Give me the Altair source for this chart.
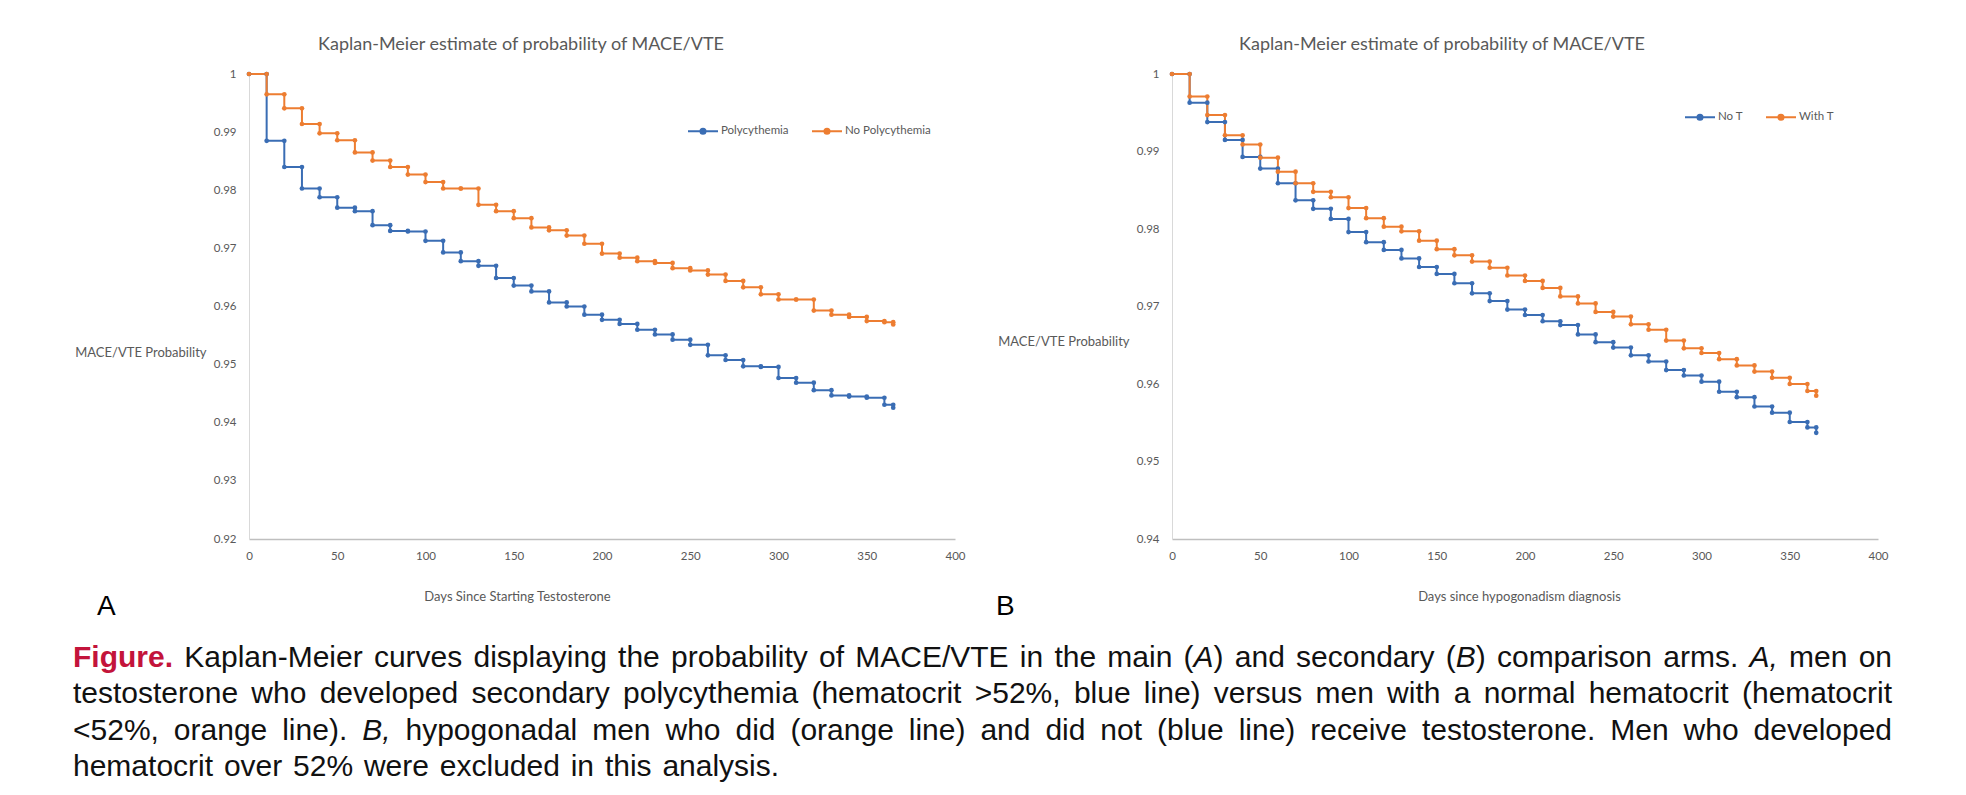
import re
import altair as alt
import pandas as pd

# ---------------- data ----------------
days = [0, 10, 20, 30, 40, 50, 60, 70, 80, 90, 100, 110, 120, 130, 140, 150, 160, 170, 180,
        190, 200, 210, 220, 230, 240, 250, 260, 270, 280, 290, 300, 310, 320, 330, 340, 350, 360, 365]

# Panel A
poly = [1.0, 0.9885, 0.9840, 0.9803, 0.9788, 0.9770, 0.9764, 0.9740, 0.9730, 0.9729,
        0.9713, 0.9693, 0.9678, 0.9670, 0.9649, 0.9636, 0.9626, 0.9607, 0.9600, 0.9586,
        0.9577, 0.9570, 0.9560, 0.9552, 0.9543, 0.9534, 0.9516, 0.9508, 0.9497, 0.9496,
        0.9477, 0.9469, 0.9456, 0.9447, 0.9445, 0.9443, 0.9431, 0.9426]
no_poly = [1.0, 0.9965, 0.9941, 0.9914, 0.9898, 0.9886, 0.9865, 0.9851, 0.9840, 0.9827,
           0.9814, 0.9803, 0.9803, 0.9775, 0.9764, 0.9752, 0.9736, 0.9731, 0.9722, 0.9708,
           0.9691, 0.9684, 0.9678, 0.9675, 0.9666, 0.9662, 0.9655, 0.9644, 0.9633, 0.9621,
           0.9612, 0.9612, 0.9593, 0.9586, 0.9582, 0.9575, 0.9573, 0.9569]

# Panel B
no_t = [1.0, 0.9963, 0.9938, 0.9915, 0.9893, 0.9878, 0.9859, 0.9837, 0.9826, 0.9813,
        0.9796, 0.9783, 0.9773, 0.9762, 0.9751, 0.9742, 0.9730, 0.9717, 0.9707, 0.9696,
        0.9689, 0.9681, 0.9676, 0.9664, 0.9654, 0.9647, 0.9637, 0.9629, 0.9618, 0.9611,
        0.9603, 0.9590, 0.9583, 0.9571, 0.9563, 0.9551, 0.9544, 0.9537]
with_t = [1.0, 0.9971, 0.9947, 0.9921, 0.9909, 0.9892, 0.9874, 0.9859, 0.9848, 0.9841,
          0.9827, 0.9814, 0.9803, 0.9797, 0.9785, 0.9774, 0.9766, 0.9758, 0.9750, 0.9740,
          0.9733, 0.9724, 0.9713, 0.9704, 0.9693, 0.9687, 0.9677, 0.9670, 0.9656, 0.9646,
          0.9640, 0.9632, 0.9624, 0.9616, 0.9608, 0.9600, 0.9591, 0.9585]

names_a = ["Polycythemia", "No Polycythemia"]
names_b = ["No T", "With T"]
x_ticks = [0, 50, 100, 150, 200, 250, 300, 350, 400]
y_ticks_a = [0.92, 0.93, 0.94, 0.95, 0.96, 0.97, 0.98, 0.99, 1.0]
y_ticks_b = [0.94, 0.95, 0.96, 0.97, 0.98, 0.99, 1.0]

chart_title = "Kaplan-Meier estimate of probability of MACE/VTE"
y_title = "MACE/VTE Probability"
x_title_a = "Days Since Starting Testosterone"
x_title_b = "Days since hypogonadism diagnosis"

caption_lines = [
    "**Figure.** Kaplan-Meier curves displaying the probability of MACE/VTE in the main (_A_) and secondary (_B_) comparison arms. _A,_ men on",
    "testosterone who developed secondary polycythemia (hematocrit >52%, blue line) versus men with a normal hematocrit (hematocrit",
    "<52%, orange line). _B,_ hypogonadal men who did (orange line) and did not (blue line) receive testosterone. Men who developed",
    "hematocrit over 52% were excluded in this analysis.",
]

# ---------------- style ----------------
BLUE = "#3A6DB4"
ORANGE = "#ED7D31"
GRAY = "#595959"
FONT = "Lato"
CAP_FONT = "Liberation Sans"
CAP_FS = 30
PLOT_W, PLOT_H = 706, 465
SYM = "M-1,0L1,0M0.17,0A0.17,0.17,0,1,1,-0.17,0A0.17,0.17,0,1,1,0.17,0Z"


def panel(names, series, ydom, yvals, xtitle, xt_x, yt_y, title_x, letter, letter_x, leg_x, leg_y):
    line_rows, pt_rows = [], []
    for name, vals in zip(names, series):
        for i, (d, v) in enumerate(zip(days, vals)):
            line_rows.append({"series": name, "day": d, "p": v})
            pt_rows.append({"series": name, "day": d, "p": v})
            if i + 1 < len(days):
                pt_rows.append({"series": name, "day": days[i + 1], "p": v})
    line_df = pd.DataFrame(line_rows)
    pt_df = pd.DataFrame(pt_rows)

    x = alt.X("day:Q", scale=alt.Scale(domain=[0, 400], nice=False, zero=False),
              axis=alt.Axis(values=x_ticks, title=xtitle, titleX=xt_x, titleY=57,
                            titleAlign="center", titleBaseline="middle", titleFont=FONT,
                            titleFontSize=13, titleFontWeight="normal", titleColor=GRAY,
                            labelFont=FONT, labelFontSize=11.5, labelColor=GRAY, labelPadding=11,
                            labelFlush=False, ticks=False, grid=False,
                            domainColor="#BFBFBF", domainWidth=1.5))
    y = alt.Y("p:Q", scale=alt.Scale(domain=ydom, nice=False, zero=False),
              axis=alt.Axis(values=yvals, format=".2~f", title=y_title, titleAngle=0,
                            titleAlign="right", titleBaseline="middle", titleX=-43, titleY=yt_y,
                            titleFont=FONT, titleFontSize=13, titleFontWeight="normal",
                            titleColor=GRAY, labelFont=FONT, labelFontSize=11.5, labelColor=GRAY,
                            labelPadding=13, labelFlush=False, ticks=False, grid=False,
                            domainColor="#D9D9D9", domainWidth=1))
    legend = alt.Legend(title=None, orient="none", legendX=leg_x, legendY=leg_y,
                        direction="horizontal", symbolType=SYM, symbolSize=900,
                        symbolStrokeWidth=2, labelFont=FONT, labelFontSize=11.5,
                        labelColor=GRAY, labelOffset=2, columnPadding=19, padding=0)
    color = alt.Color("series:N", scale=alt.Scale(domain=names, range=[BLUE, ORANGE]),
                      legend=legend)

    lines = alt.Chart(line_df).mark_line(interpolate="step-after", strokeWidth=2).encode(
        x=x, y=y, color=color)
    pts = alt.Chart(pt_df).mark_point(filled=True, size=22, opacity=1).encode(
        x=x, y=y, color=color)
    title = alt.Chart(pd.DataFrame({"t": [chart_title]})).mark_text(
        font=FONT, fontSize=18, color=GRAY, align="center", baseline="alphabetic").encode(
        x=alt.value(title_x), y=alt.value(-24), text="t:N")
    let = alt.Chart(pd.DataFrame({"t": [letter]})).mark_text(
        font=CAP_FONT, fontSize=28, color="#000000", align="left", baseline="alphabetic").encode(
        x=alt.value(letter_x), y=alt.value(541), text="t:N")
    return alt.layer(lines, pts, title, let).properties(width=PLOT_W, height=PLOT_H)


pA = panel(names_a, [poly, no_poly], [0.92, 1.0], y_ticks_a, x_title_a, 268, 278, 272,
           "A", -152, 438, 41)
pB = panel(names_b, [no_t, with_t], [0.94, 1.0], y_ticks_b, x_title_b, 347, 267, 270,
           "B", -176, 512, 27)

# ---------------- caption (justified, Arial metrics) ----------------
AW = {" ": 278, "!": 278, "%": 889, "(": 333, ")": 333, ",": 278, "-": 333, ".": 278, "/": 278,
      "<": 584, ">": 584, ":": 278,
      "A": 667, "B": 667, "C": 722, "D": 722, "E": 667, "F": 611, "G": 778, "H": 722, "I": 278,
      "J": 500, "K": 667, "L": 556, "M": 833, "N": 722, "O": 778, "P": 667, "Q": 778, "R": 722,
      "S": 667, "T": 611, "U": 722, "V": 667, "W": 944, "X": 667, "Y": 667, "Z": 611,
      "a": 556, "b": 556, "c": 500, "d": 556, "e": 556, "f": 278, "g": 556, "h": 556, "i": 222,
      "j": 222, "k": 500, "l": 222, "m": 833, "n": 556, "o": 556, "p": 556, "q": 556, "r": 333,
      "s": 500, "t": 278, "u": 556, "v": 500, "w": 722, "x": 500, "y": 500, "z": 500}
AWB = {"F": 611, "i": 278, "g": 611, "u": 611, "r": 389, "e": 556, ".": 278}


def tw(s, style):
    tab = AWB if style == "bold" else {}
    return sum(tab.get(c, AW.get(c, 556)) for c in s) * CAP_FS / 1000.0


def parse(word):
    out = []
    for part in re.split(r"(\*\*.+?\*\*|_.+?_)", word):
        if not part:
            continue
        if part.startswith("**"):
            out.append((part[2:-2], "bold"))
        elif part.startswith("_") and part.endswith("_") and len(part) > 1:
            out.append((part[1:-1], "italic"))
        else:
            out.append((part, "regular"))
    return out


CAP_X0 = -176          # relative to the left edge of panel A's plot
CAP_W = 1819
CAP_Y0 = 128           # baseline of first line, below bottom of plots
CAP_DY = 36.3
rows = []
for li, line in enumerate(caption_lines):
    words = [parse(w) for w in line.split(" ")]
    widths = [sum(tw(t, s) for t, s in w) for w in words]
    if li < len(caption_lines) - 1:
        gap = (CAP_W - sum(widths)) / (len(words) - 1)
    else:
        gap = tw(" ", "regular") * 1.3
    xcur = CAP_X0
    for w, wd in zip(words, widths):
        xx = xcur
        for t, s in w:
            rows.append({"text": t, "x": xx, "y": CAP_Y0 + li * CAP_DY, "style": s})
            xx += tw(t, s)
        xcur += wd + gap
cap_df = pd.DataFrame(rows)

cap_base = alt.Chart(cap_df).encode(
    x=alt.X("x:Q", scale=None, axis=None),
    y=alt.Y("y:Q", scale=None, axis=None),
    text="text:N")
cap_reg = cap_base.transform_filter(alt.datum.style == "regular").mark_text(
    font=CAP_FONT, fontSize=CAP_FS, color="#111111", align="left", baseline="alphabetic")
cap_it = cap_base.transform_filter(alt.datum.style == "italic").mark_text(
    font=CAP_FONT, fontSize=CAP_FS, fontStyle="italic", color="#111111", align="left",
    baseline="alphabetic")
cap_bold = cap_base.transform_filter(alt.datum.style == "bold").mark_text(
    font=CAP_FONT, fontSize=CAP_FS, fontWeight="bold", color="#C3143B", align="left",
    baseline="alphabetic")
caption = alt.layer(cap_reg, cap_it, cap_bold).properties(width=10, height=10)

chart = alt.concat(
    pA, pB, caption, columns=2, spacing={"row": 0, "column": 217}, bounds="flush"
).resolve_scale(color="independent").properties(
    padding={"left": 73, "top": 36, "right": 10, "bottom": 10},
    background="white",
).configure_view(stroke=None)

chart.save("out.html", embed_options={"renderer": "svg", "actions": False})
